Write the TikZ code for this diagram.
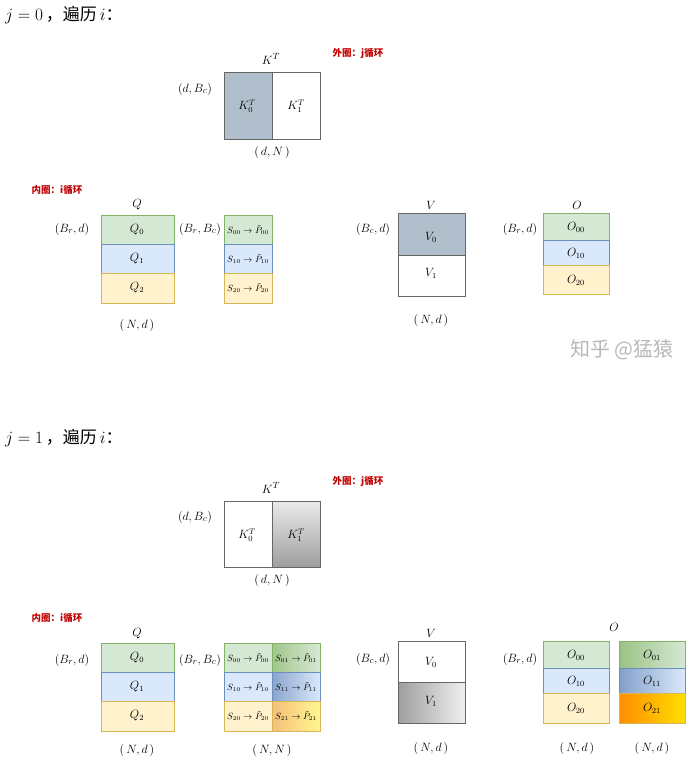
\documentclass[tikz,border=0pt]{standalone}
\usepackage{amsmath}
\usepackage{amssymb}
\usepackage{fontspec}
\newfontfamily\cjk{Noto Sans CJK SC}
\usepackage{tikz}
\usepackage{xcolor}
\usetikzlibrary{positioning}

\definecolor{grnfill}{HTML}{D5E8D4}
\definecolor{grnline}{HTML}{82B366}
\definecolor{blufill}{HTML}{DAE8FC}
\definecolor{bluline}{HTML}{6C8EBF}
\definecolor{ylwfill}{HTML}{FFF2CC}
\definecolor{ylwline}{HTML}{D6B656}
\definecolor{kgray}{HTML}{B1BFCC}
\definecolor{loopred}{HTML}{C00000}

\begin{document}
\begin{tikzpicture}[x=1pt,y=-1pt,
    lab/.style={font=\fontsize{12.5}{14}\selectfont, inner sep=0pt},
    cell/.style={font=\fontsize{11.5}{13}\selectfont, inner sep=0pt},
    small/.style={font=\fontsize{9}{10}\selectfont, inner sep=0pt},
    head/.style={font=\fontsize{17}{19}\selectfont, inner sep=0pt, anchor=west},
    looplab/.style={font=\cjk\bfseries\fontsize{9.5}{11}\selectfont, text=loopred, inner sep=0pt},
    box/.style={draw=black!60, line width=0.7pt}]
    \useasboundingbox (0,0) rectangle (691,763);

    % ---------- j = 0 ----------
    \node[head] (hd0) at (5,15) {$j=0$\,{\cjk ，遍历}\,$i${\cjk ：}};
    \node[looplab] (outer0) at (358,53) {外圈：j循环};
    \node[looplab] (inner0) at (57,190) {内圈：i循环};

    % K^T
    \fill [kgray] (224,72) rectangle (272,139);
    \draw [box] (224,72) rectangle (320,139);
    \draw [box] (272,72)--(272,139);
    \node[lab] (kt0) at (271,59) {$K^T$};
    \node[cell] (kt00) at (247,106) {$K_0^T$};
    \node[cell] (kt01) at (296,106) {$K_1^T$};
    \node[lab] (kdim0) at (195,89) {$(d,B_c)$};
    \node[lab] (kshape0) at (272,152) {$(\,d,N\,)$};

    % Q
    \draw [fill=grnfill, draw=grnline] (101,215) rectangle (174,244);
    \draw [fill=blufill, draw=bluline] (101,244) rectangle (174,273);
    \draw [fill=ylwfill, draw=ylwline] (101,273) rectangle (174,303);
    \node[lab] (q0) at (137,205) {$Q$};
    \node[cell] (q00) at (137,230) {$Q_0$};
    \node[cell] (q01) at (137,259) {$Q_1$};
    \node[cell] (q02) at (137,288) {$Q_2$};
    \node[lab] (qdim0) at (72,229) {$(B_r,d)$};
    \node[lab] (qshape0) at (137,325) {$(\,N,d\,)$};

    % S
    \draw [fill=grnfill, draw=grnline] (224,215) rectangle (272,244);
    \draw [fill=blufill, draw=bluline] (224,244) rectangle (272,273);
    \draw [fill=ylwfill, draw=ylwline] (224,273) rectangle (272,303);
    \node[small] (s00a) at (248,230) {$S_{00}\to\tilde{P}_{00}$};
    \node[small] (s10a) at (248,259) {$S_{10}\to\tilde{P}_{10}$};
    \node[small] (s20a) at (248,288) {$S_{20}\to\tilde{P}_{20}$};
    \node[lab] (sdim0) at (200,229) {$(B_r,B_c)$};

    % V
    \fill [kgray] (398,213) rectangle (465,255);
    \draw [box] (398,213) rectangle (465,296);
    \draw [box] (398,255)--(465,255);
    \node[lab] (v0) at (431,205) {$V$};
    \node[cell] (v00) at (431,237) {$V_0$};
    \node[cell] (v01) at (431,273) {$V_1$};
    \node[lab] (vdim0) at (373,229) {$(B_c,d)$};
    \node[lab] (vshape0) at (431,320) {$(\,N,d\,)$};

    % O
    \draw [fill=grnfill, draw=grnline] (543,213) rectangle (609,240);
    \draw [fill=blufill, draw=bluline] (543,240) rectangle (609,265);
    \draw [fill=ylwfill, draw=ylwline] (543,265) rectangle (609,294);
    \node[lab] (o0) at (577,205) {$O$};
    \node[cell] (o00) at (576,227) {$O_{00}$};
    \node[cell] (o10) at (576,253) {$O_{10}$};
    \node[cell] (o20) at (576,280) {$O_{20}$};
    \node[lab] (odim0) at (520,229) {$(B_r,d)$};

    \node[font=\cjk\fontsize{20}{22}\selectfont, text=black!28, inner sep=0pt] (mark) at (622,350) {知乎 @猛猿};

    % ---------- j = 1 ----------
    \node[head] (hd1) at (5,438) {$j=1$\,{\cjk ，遍历}\,$i${\cjk ：}};
    \node[looplab] (outer1) at (358,481) {外圈：j循环};
    \node[looplab] (inner1) at (57,618) {内圈：i循环};

    % K^T
    \shade [top color=black!8, bottom color=black!38] (272,501) rectangle (320,567);
    \draw [box] (224,501) rectangle (320,567);
    \draw [box] (272,501)--(272,567);
    \node[lab] (kt1) at (271,488) {$K^T$};
    \node[cell] (kt10) at (247,535) {$K_0^T$};
    \node[cell] (kt11) at (296,535) {$K_1^T$};
    \node[lab] (kdim1) at (195,517) {$(d,B_c)$};
    \node[lab] (kshape1) at (272,580) {$(\,d,N\,)$};

    % Q
    \draw [fill=grnfill, draw=grnline] (101,643) rectangle (174,672);
    \draw [fill=blufill, draw=bluline] (101,672) rectangle (174,701);
    \draw [fill=ylwfill, draw=ylwline] (101,701) rectangle (174,731);
    \node[lab] (q1) at (137,634) {$Q$};
    \node[cell] (q10) at (137,658) {$Q_0$};
    \node[cell] (q11) at (137,687) {$Q_1$};
    \node[cell] (q12) at (137,716) {$Q_2$};
    \node[lab] (qdim1) at (72,660) {$(B_r,d)$};
    \node[lab] (qshape1) at (137,750) {$(\,N,d\,)$};

    % S
    \draw [fill=grnfill, draw=grnline] (224,643) rectangle (272,672);
    \draw [fill=blufill, draw=bluline] (224,672) rectangle (272,701);
    \draw [fill=ylwfill, draw=ylwline] (224,701) rectangle (272,731);
    \shade [left color=grnline!75, right color=grnfill] (272,643) rectangle (320,672);
    \shade [left color=bluline!80, right color=blufill] (272,672) rectangle (320,701);
    \shade [left color=ylwline!40!orange!60, right color=ylwfill!70!yellow] (272,701) rectangle (320,731);
    \draw [grnline] (272,643) rectangle (320,672);
    \draw [bluline] (272,672) rectangle (320,701);
    \draw [ylwline] (272,701) rectangle (320,731);
    \node[small] (s00b) at (248,658) {$S_{00}\to\tilde{P}_{00}$};
    \node[small] (s10b) at (248,687) {$S_{10}\to\tilde{P}_{10}$};
    \node[small] (s20b) at (248,716) {$S_{20}\to\tilde{P}_{20}$};
    \node[small] (s01b) at (296,658) {$S_{01}\to\tilde{P}_{01}$};
    \node[small] (s11b) at (296,687) {$S_{11}\to\tilde{P}_{11}$};
    \node[small] (s21b) at (296,716) {$S_{21}\to\tilde{P}_{21}$};
    \node[lab] (sdim1) at (200,660) {$(B_r,B_c)$};
    \node[lab] (sshape1) at (272,750) {$(\,N,N\,)$};

    % V
    \shade [left color=black!38, right color=black!6] (398,682) rectangle (465,723);
    \draw [box] (398,641) rectangle (465,723);
    \draw [box] (398,682)--(465,682);
    \node[lab] (v1) at (431,633) {$V$};
    \node[cell] (v10) at (431,662) {$V_0$};
    \node[cell] (v11) at (431,701) {$V_1$};
    \node[lab] (vdim1) at (373,659) {$(B_c,d)$};
    \node[lab] (vshape1) at (431,748) {$(\,N,d\,)$};

    % O
    \draw [fill=grnfill, draw=grnline] (543,641) rectangle (609,668);
    \draw [fill=blufill, draw=bluline] (543,668) rectangle (609,693);
    \draw [fill=ylwfill, draw=ylwline] (543,693) rectangle (609,723);
    \shade [left color=grnline!80, right color=grnfill] (619,641) rectangle (685,668);
    \shade [left color=bluline!85, right color=blufill] (619,668) rectangle (685,693);
    \shade [left color=orange!90!yellow, right color=yellow!75!orange] (619,693) rectangle (685,723);
    \draw [grnline] (619,641) rectangle (685,668);
    \draw [bluline] (619,668) rectangle (685,693);
    \draw [ylwline] (619,693) rectangle (685,723);
    \node[lab] (o1) at (614,627) {$O$};
    \node[cell] (o100) at (576,655) {$O_{00}$};
    \node[cell] (o110) at (576,681) {$O_{10}$};
    \node[cell] (o120) at (576,708) {$O_{20}$};
    \node[cell] (o101) at (652,655) {$O_{01}$};
    \node[cell] (o111) at (652,681) {$O_{11}$};
    \node[cell] (o121) at (652,708) {$O_{21}$};
    \node[lab] (odim1) at (520,659) {$(B_r,d)$};
    \node[lab] (oshape1a) at (577,748) {$(\,N,d\,)$};
    \node[lab] (oshape1b) at (652,748) {$(\,N,d\,)$};
\end{tikzpicture}
\end{document}
